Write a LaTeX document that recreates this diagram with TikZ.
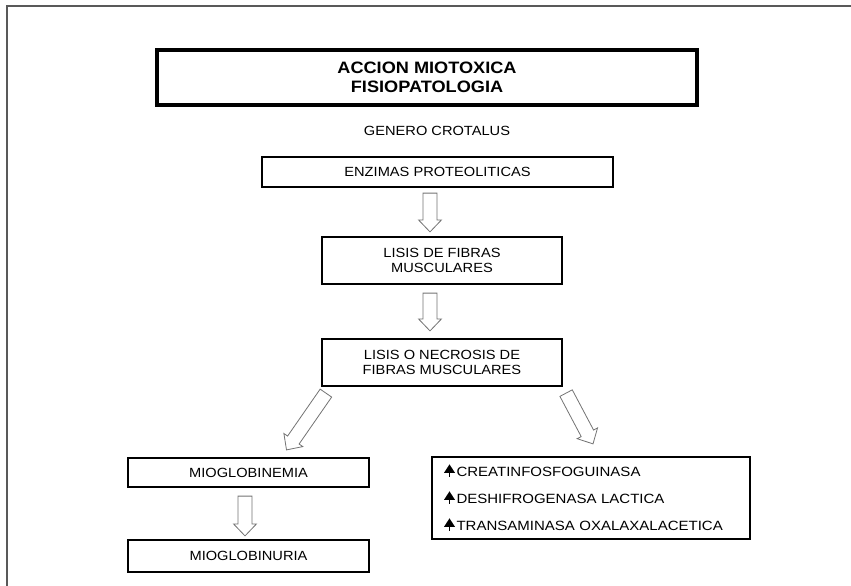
\documentclass[tikz,border=0pt]{standalone}
\usepackage{fontspec}
\usepackage{tikz}
\usetikzlibrary{calc,positioning}
\newfontfamily\boxfont[FakeStretch=1.1]{Liberation Sans}
\newfontfamily\listfont[FakeStretch=1.12]{Liberation Sans}
\tikzset{
  titlebox/.style={draw, line width=3.5pt, align=center, minimum width=540pt, minimum height=55pt, font=\boxfont\bfseries\fontsize{16.5}{19.5}\selectfont},
  box/.style={draw, line width=2.2pt, align=center, inner sep=0pt, font=\boxfont\fontsize{13.3}{15}\selectfont},
  listbox/.style={draw, line width=2.2pt, align=left, inner xsep=12pt, inner ysep=0pt, text width=294pt, minimum height=82pt, font=\listfont\fontsize{13.4}{27}\selectfont},
  plain/.style={font=\boxfont\fontsize{13.3}{15}\selectfont},
  blockarrow/.style={draw=black!55, line width=0.8pt, fill=white, line join=miter},
  frameline/.style={draw=black!65, line width=1.6pt}
}
% hollow block arrow from #1 to #2
\newcommand{\hollowarrow}[2]{%
  \coordinate (m) at ($(#2)!12pt!(#1)$);
  \draw[blockarrow] ($(#1)!7pt!90:(#2)$) -- ($(m)!7pt!-90:(#1)$) -- ($(m)!11.5pt!-90:(#1)$)
    -- (#2) -- ($(m)!11.5pt!90:(#1)$) -- ($(m)!7pt!90:(#1)$) -- ($(#1)!7pt!-90:(#2)$) -- cycle;
}
\newcommand{\upmark}{\tikz[baseline=0pt, x=1pt, y=1pt]{\draw[line width=1.6pt] (0,-0.5) -- (0,5); \fill (-5.5,3.5) -- (0,12) -- (5.5,3.5) -- cycle;}\hspace{1.5pt}}

\begin{document}
\begin{tikzpicture}[x=1pt, y=-1pt]
  \useasboundingbox (0,0) rectangle (851,586);
  \draw[frameline] (7,586) -- (7,6) -- (851,6);

  \node[titlebox] (title) at (427,77.5) {ACCION MIOTOXICA\\FISIOPATOLOGIA};
  \node[plain] (genero) at (437,131) {GENERO CROTALUS};

  \node[box, minimum width=351pt, minimum height=30pt] (enzimas) at (437.5,172) {ENZIMAS PROTEOLITICAS};
  \node[box, minimum width=240pt, minimum height=47pt] (lisis) at (442,260.5) {LISIS DE FIBRAS\\MUSCULARES};
  \node[box, minimum width=240pt, minimum height=47pt] (necrosis) at (442,362.5) {LISIS O NECROSIS DE\\FIBRAS MUSCULARES};

  \node[box, minimum width=241pt, minimum height=29pt] (mioemia) at (248.5,472.5) {MIOGLOBINEMIA};
  \node[box, minimum width=241pt, minimum height=32pt] (miouria) at (248.5,556) {MIOGLOBINURIA};
  \node[listbox, minimum width=318pt] (enzlist) at (591,498)
    {\upmark CREATINFOSFOGUINASA\\\upmark DESHIFROGENASA LACTICA\\\upmark TRANSAMINASA OXALAXALACETICA};

  % arrow ends
  \coordinate (a1s) at ([xshift=-7.5pt, yshift=-5pt]enzimas.south);
  \coordinate (a1e) at ([xshift=-12pt, yshift=4pt]lisis.north);
  \coordinate (a2s) at ([xshift=-12pt, yshift=-8pt]lisis.south);
  \coordinate (a2e) at ([xshift=-12pt, yshift=7pt]necrosis.north);
  \coordinate (a3s) at ([xshift=5pt, yshift=-6pt]necrosis.south west);
  \coordinate (a3e) at ([xshift=38pt, yshift=7pt]mioemia.north);
  \coordinate (a4s) at ([xshift=3pt, yshift=-6pt]necrosis.south east);
  \coordinate (a4e) at ([xshift=2pt, yshift=12pt]enzlist.north);
  \coordinate (a5s) at ([xshift=-3.5pt, yshift=-8pt]mioemia.south);
  \coordinate (a5e) at ([xshift=-3.5pt, yshift=3pt]miouria.north);

  \hollowarrow{a1s}{a1e}
  \hollowarrow{a2s}{a2e}
  \hollowarrow{a3s}{a3e}
  \hollowarrow{a4s}{a4e}
  \hollowarrow{a5s}{a5e}
\end{tikzpicture}
\end{document}
